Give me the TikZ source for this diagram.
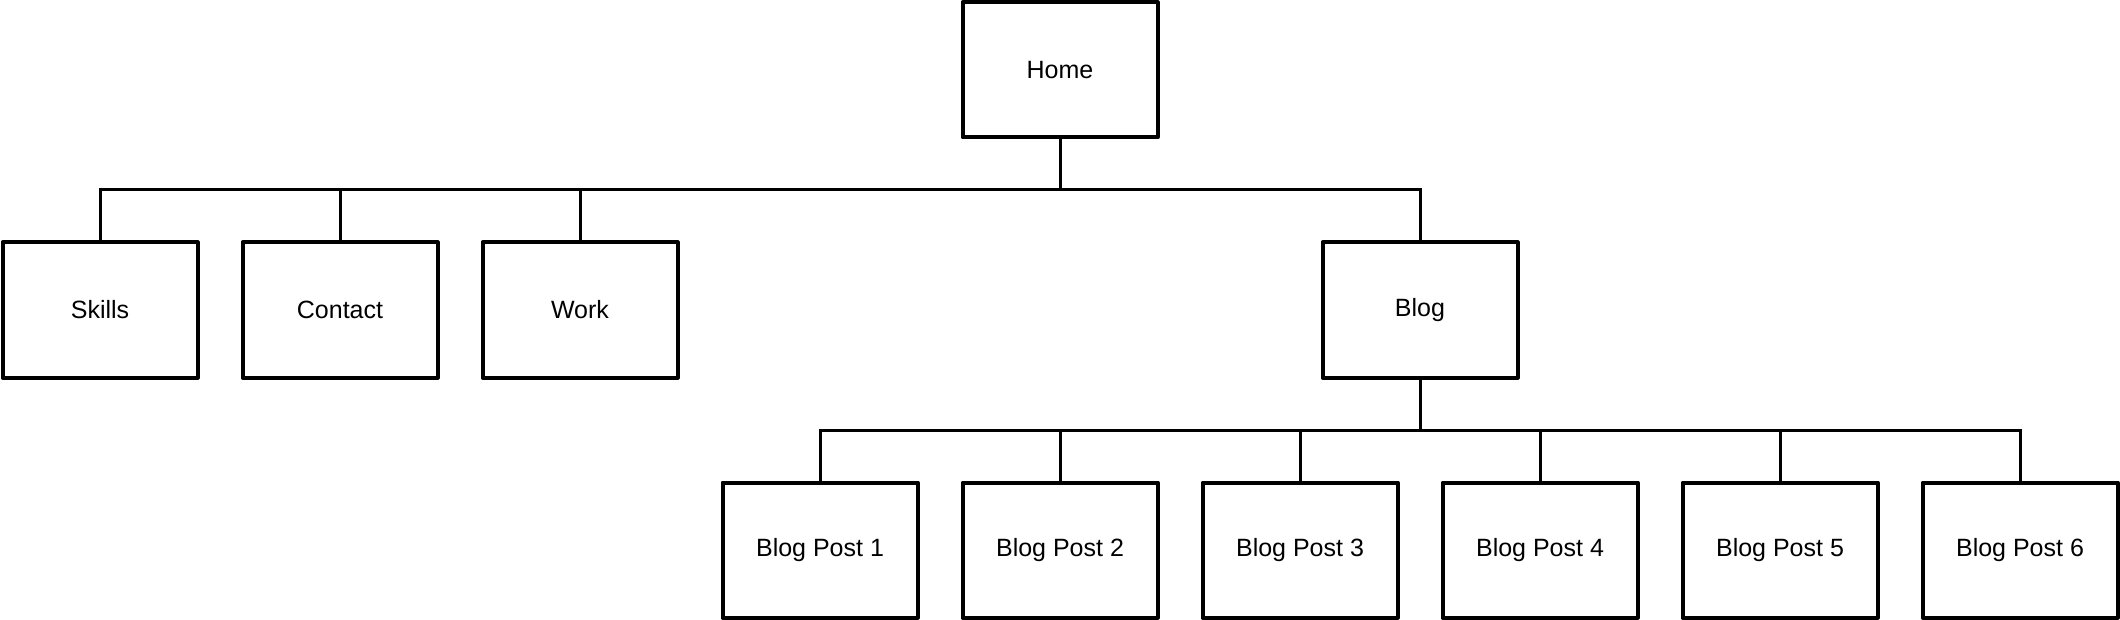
\documentclass[tikz,border=0pt]{standalone}
\usepackage{fontspec}
\setmainfont{Liberation Sans}
\usepackage{tikz}
\usetikzlibrary{positioning}

\begin{document}
\begin{tikzpicture}[x=0.5pt, y=-0.5pt,
        page/.style={rectangle, draw, line width=2pt, line join=round, fill=white,
            minimum width=97.5pt, minimum height=67.5pt, inner sep=0pt,
            font=\fontsize{12.5}{15}\selectfont},
        link/.style={line width=1.5pt}]
        \def\gap{240}
        \useasboundingbox (0,0) rectangle (2120,620);

        \node(home) [page] at (1060,70) {Home};

        \node(skills) [page] at (100,310) {Skills};
        \node(contact) [page] at (100+\gap,310) {Contact};
        \node(work) [page] at (100+2*\gap,310) {Work};
        \node(blog) [page] at (1420,310) {Blog};

        \foreach \i in {1,...,6}
            \node(post\i) [page] at (580+\i*\gap,550) {Blog Post \i};

        \coordinate(bus1) at (1060,190);
        \coordinate(bus2) at (1420,430);

        \draw[link] (home.south) -- (bus1);
        \foreach \n in {skills,contact,work,blog}
            \draw[link] (bus1) -| (\n.north);

        \draw[link] (blog.south) -- (bus2);
        \foreach \i in {1,...,6}
            \draw[link] (bus2) -| (post\i.north);
    \end{tikzpicture}
\end{document}
